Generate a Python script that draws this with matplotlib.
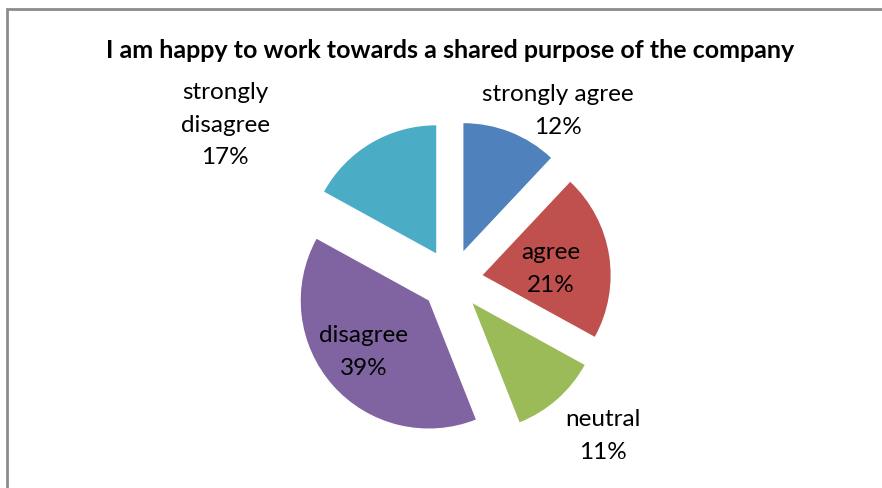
import matplotlib.pyplot as plt
from matplotlib.patches import Rectangle

title = "I am happy to work towards a shared purpose of the company"
labels = ["strongly agree", "agree", "neutral", "disagree", "strongly\ndisagree"]
shares = [12, 21, 11, 39, 17]
colors = ["#4F81BD", "#C0504D", "#9BBB59", "#8064A2", "#4BACC6"]

# label anchor positions in pixel space (x, y from top)
label_pos = [(558, 111), (551, 269), (603, 436), (364, 352), (225, 125)]

plt.rcParams['font.family'] = ['Lato', 'DejaVu Sans']

fig = plt.figure(figsize=(8.82, 4.88), dpi=100)
ax = fig.add_axes([0, 0, 1, 1])

# chart frame, running off the right and bottom edges
ax.add_patch(Rectangle((7, -10), 900, 488 - 9 + 10, fill=False,
                       edgecolor='#8c8c8c', linewidth=2))

# explode is in data units here (pixels), not a fraction of the radius
ax.pie(shares, colors=colors, startangle=90, counterclock=False,
       center=(452, 488 - 280), radius=128, explode=[31] * len(shares),
       wedgeprops=dict(linewidth=0), frame=True)
ax.set_xlim(0, 882)
ax.set_ylim(0, 488)
ax.set_aspect('equal')
ax.axis('off')

for lab, val, (px, py) in zip(labels, shares, label_pos):
    ax.text(px, 488 - py, f"{lab}\n{val}%", ha='center', va='center',
            fontsize=17.5, color='black', linespacing=1.65)

ax.text(450, 488 - 50, title, ha='center', va='center',
        fontsize=18, fontweight='bold')

fig.savefig("out.png", dpi=100)
